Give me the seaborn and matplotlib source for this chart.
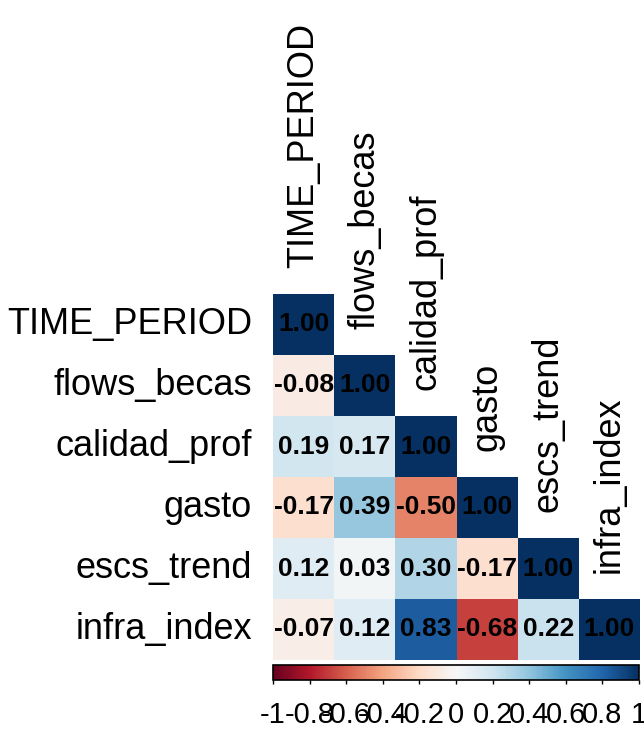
import numpy as np
import pandas as pd
import seaborn as sns
import matplotlib
matplotlib.use("Agg")
import matplotlib.pyplot as plt
from matplotlib.colors import Normalize
from matplotlib.cm import ScalarMappable

variables = ["TIME_PERIOD", "flows_becas", "calidad_prof", "gasto", "escs_trend", "infra_index"]
row_time = [1.00, -0.08, 0.19, -0.17, 0.12, -0.07]
row_flows = [-0.08, 1.00, 0.17, 0.39, 0.03, 0.12]
row_calidad = [0.19, 0.17, 1.00, -0.50, 0.30, 0.83]
row_gasto = [-0.17, 0.39, -0.50, 1.00, -0.17, -0.68]
row_escs = [0.12, 0.03, 0.30, -0.17, 1.00, 0.22]
row_infra = [-0.07, 0.12, 0.83, -0.68, 0.22, 1.00]
cbar_ticks = [-1, -0.8, -0.6, -0.4, -0.2, 0, 0.2, 0.4, 0.6, 0.8, 1]
cbar_labels = ["-1", "-0.8", "-0.6", "-0.4", "-0.2", "0", "0.2", "0.4", "0.6", "0.8", "1"]

corr = pd.DataFrame([row_time, row_flows, row_calidad, row_gasto, row_escs, row_infra],
                    index=variables, columns=variables)

sns.set_style("white")
plt.rcParams['font.family'] = ['Liberation Sans', 'DejaVu Sans']
plt.rcParams['text.color'] = 'black'
plt.rcParams['xtick.color'] = 'black'
plt.rcParams['ytick.color'] = 'black'

W, H = 644, 729
fig = plt.figure(figsize=(W / 100, H / 100), dpi=100)
ax = fig.add_axes([273 / W, (H - 660) / H, 367 / W, 366 / H])

mask = np.triu(np.ones_like(corr, dtype=bool), k=1)
sns.heatmap(corr, mask=mask, cmap="RdBu", vmin=-1, vmax=1, annot=True, fmt=".2f",
            annot_kws={"fontsize": 19, "fontweight": "bold", "color": "black"},
            linewidths=0, cbar=False, square=False, ax=ax)
for t in ax.texts:
    t.set_color("black")

ax.set_xticks([])
ax.set_xlabel("")
ax.set_ylabel("")
ax.set_yticks(np.arange(len(variables)) + 0.5)
ax.set_yticklabels(variables, fontsize=26, rotation=0, color="black")
ax.tick_params(axis="y", length=0, pad=15)

for i, name in enumerate(variables):
    ax.text(i + 0.5, i - 0.42, name, rotation=90, ha="center", va="bottom",
            fontsize=26, color="black", clip_on=False)

cax = fig.add_axes([273 / W, (H - 680) / H, 366 / W, 15 / H])
sm = ScalarMappable(norm=Normalize(-1, 1), cmap="RdBu")
cb = fig.colorbar(sm, cax=cax, orientation="horizontal")
cb.set_ticks(cbar_ticks)
cb.set_ticklabels(cbar_labels)
cb.outline.set_edgecolor("black")
cb.outline.set_linewidth(1.2)
cax.tick_params(axis="x", direction="out", length=3, width=1, labelsize=21, pad=12,
                colors="black")

fig.savefig("out.png", dpi=100)
